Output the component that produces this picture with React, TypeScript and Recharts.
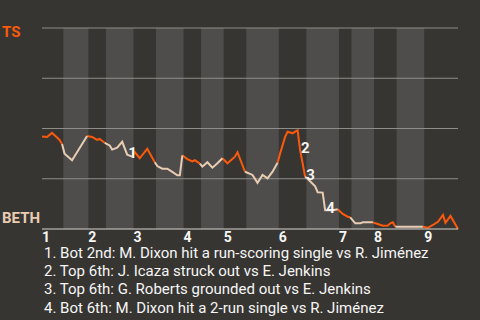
import { LineChart, Line, XAxis, YAxis, ReferenceArea, ReferenceLine, ReferenceDot } from "recharts";

// win probability for the away side (TS), one entry per play that moved it
const awayTeam = "TS";
const homeTeam = "BETH";

const innings = ["1", "2", "3", "4", "5", "6", "7", "8", "9"];
// first play index of each half inning (top 1st, bot 1st, top 2nd, ...)
const halfStarts = [0, 8.5, 18.5, 25.5, 36.5, 45.5, 56.5, 63.5, 72.5, 81.5, 94.5, 105.5, 118.5, 123.5, 132.5, 141.5, 152.5];
const lastPlay = 166;

const plays = [
  0, 2, 4, 6, 7, 8,
  9, 12, 18,
  20, 22, 23, 25,
  27, 28, 30, 32, 34, 36,
  37, 39, 42, 45,
  46, 48, 50, 52, 54, 55, 56,
  58, 60, 61, 63,
  64, 66, 68, 70, 72,
  74, 77, 78, 81,
  84, 86, 88, 90, 92, 94,
  95, 97, 98, 100, 101, 102, 103, 105,
  106, 109, 110, 112, 113, 116, 118,
  120, 122, 123,
  125, 127, 128, 132,
  134, 136, 138, 139, 140, 141,
  146, 152,
  154, 156, 158, 160, 161, 163, 166,
];
const tsWinPct = [
  46.0, 45.8, 47.8, 45.5, 44.3, 42.3,
  37.5, 34.2, 46.3,
  45.8, 44.3, 44.8, 42.9,
  41.6, 39.5, 40.5, 43.4, 37.0, 36.0,
  38.3, 35.2, 39.9, 33.2,
  31.3, 30.0, 30.0, 28.4, 26.7, 26.7, 36.6,
  34.8, 33.6, 34.2, 32.5,
  31.0, 33.2, 30.5, 32.7, 35.2,
  32.7, 36.0, 38.2, 28.5,
  26.9, 23.0, 26.9, 25.2, 28.5, 33.0,
  37.5, 45.8, 48.4, 47.6, 48.4, 49.1, 39.3, 26.0,
  25.0, 21.2, 18.3, 18.1, 9.3, 9.3, 9.8,
  7.5, 6.1, 5.8,
  2.8, 2.8, 3.3, 3.3,
  2.5, 1.6, 1.7, 2.8, 3.3, 1.1,
  1.1, 1.1,
  0.6, 2.0, 3.6, 7.0, 3.1, 6.5, 0,
];

const notePlays = [34, 103, 105, 113];
const notes = [
  "Bot 2nd: M. Dixon hit a run-scoring single vs R. Jiménez",
  "Top 6th: J. Icaza struck out vs E. Jenkins",
  "Top 6th: G. Roberts grounded out vs E. Jenkins",
  "Bot 6th: M. Dixon hit a 2-run single vs R. Jiménez",
];

const ORANGE = "#fb5a0c";
const BEIGE = "#e9cdb3";
const BG = "#373531";
const BAND = "#4e4d4b";
const FONT = "Roboto, sans-serif";

const halfOf = (play: number) => {
  let h = 0;
  halfStarts.forEach((s, i) => {
    if (play >= s) h = i;
  });
  return h;
};

// a segment takes the colour of the half inning its end play belongs to,
// so each play sits in the series of its own half and of the next one
const rows = plays.map((play, i) => {
  const half = halfOf(play);
  const next = i + 1 < plays.length ? halfOf(plays[i + 1]) : half;
  const wp = tsWinPct[i];
  return {
    play,
    top: half % 2 === 0 || next % 2 === 0 ? wp : null,
    bot: half % 2 === 1 || next % 2 === 1 ? wp : null,
  };
});

const inningStarts = halfStarts.filter((_, i) => i % 2 === 0);

function InningTick(props: any) {
  const { x, y, payload } = props;
  const label = innings[inningStarts.indexOf(payload.value)];
  return (
    <text x={x} y={y} dominantBaseline="central" textAnchor="start" fill="#f6f6f6" fontSize={14} fontWeight={700} fontFamily={FONT}>
      {label}
    </text>
  );
}

export default function App() {
  return (
    <div style={{ position: "fixed", left: 0, top: 0, width: 480, height: 320, background: BG, fontFamily: FONT }}>
      <style>{"body{margin:0}"}</style>
      <LineChart width={480} height={320} data={rows} margin={{ top: 28, right: 22, bottom: 71, left: 42 }}>
        {halfStarts.map((s, i) =>
          i % 2 === 1 ? (
            <ReferenceArea key={s} x1={s} x2={halfStarts[i + 1] ?? lastPlay} fill={BAND} fillOpacity={1} stroke="none" />
          ) : null
        )}
        {[25, 50, 75, 100].map((v) => (
          <ReferenceLine key={v} y={v} stroke="#8e8d8a" strokeWidth={1} />
        ))}
        <XAxis
          dataKey="play"
          type="number"
          domain={[0, lastPlay]}
          ticks={inningStarts}
          interval={0}
          height={20}
          tickLine={false}
          axisLine={{ stroke: "#d4d4d2" }}
          tick={<InningTick />}
        />
        <YAxis type="number" domain={[0, 100]} width={0} tick={false} tickLine={false} axisLine={{ stroke: "#b0afac" }} />
        <Line dataKey="top" type="linear" stroke={ORANGE} strokeWidth={2} dot={false} connectNulls={false} isAnimationActive={false} />
        <Line dataKey="bot" type="linear" stroke={BEIGE} strokeWidth={2} dot={false} connectNulls={false} isAnimationActive={false} />
        {notePlays.map((p, i) => (
          <ReferenceDot
            key={p}
            x={p}
            y={tsWinPct[plays.indexOf(p)]}
            r={0}
            stroke="none"
            label={({ viewBox }: any) => (
              <text x={viewBox.x + 1} y={viewBox.y - 2} dominantBaseline="central" fill="#f4f4f4" fontSize={15} fontWeight={700} fontFamily={FONT}>
                {i + 1}
              </text>
            )}
          />
        ))}
      </LineChart>
      <div style={{ position: "absolute", left: 2, top: 25, color: ORANGE, fontSize: 15, fontWeight: 700, lineHeight: "15px" }}>{awayTeam}</div>
      <div style={{ position: "absolute", left: 2, top: 211, color: BEIGE, fontSize: 15, fontWeight: 700, lineHeight: "15px" }}>{homeTeam}</div>
      <div style={{ position: "absolute", left: 44, top: 244, color: "#f6f6f6", fontSize: 15, lineHeight: "18.2px" }}>
        {notes.map((n, i) => (
          <div key={i}>{`${i + 1}. ${n}`}</div>
        ))}
      </div>
    </div>
  );
}
